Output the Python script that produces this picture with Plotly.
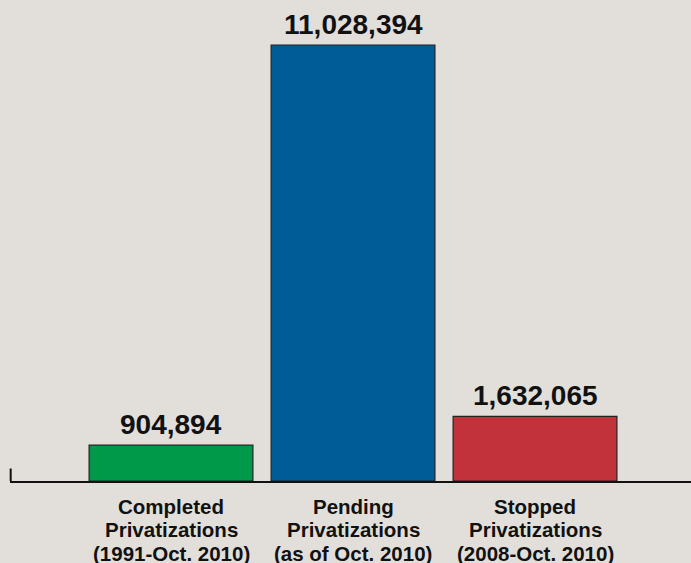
import plotly.graph_objects as go

category_lines = [["Completed", "Privatizations", "(1991-Oct. 2010)"],
                  ["Pending", "Privatizations", "(as of Oct. 2010)"],
                  ["Stopped", "Privatizations", "(2008-Oct. 2010)"]]
values = [904894, 11028394, 1632065]
labels = ["904,894", "11,028,394", "1,632,065"]
colors = ["#00994a", "#005c97", "#c1323a"]

bg = "#e2dfdb"
x = [0, 1, 2]
FONT = "Liberation Sans, Arial, sans-serif"

fig = go.Figure()
fig.add_trace(go.Bar(
    x=x, y=values,
    marker=dict(color=colors, line=dict(color="#222222", width=1.2)),
    width=0.9,
    hoverinfo="skip",
))

annotations = []
for i, v in enumerate(values):
    annotations.append(dict(
        x=x[i], y=v, xref="x", yref="y", text=labels[i], showarrow=False,
        yanchor="bottom", xanchor="center", yshift=3,
        font=dict(family=FONT, size=28, color="#111111", weight="bold"),
    ))
for i, lines in enumerate(category_lines):
    for k, line in enumerate(lines):
        annotations.append(dict(
            x=x[i], y=0, xref="x", yref="y", text=line, showarrow=False,
            yanchor="middle", xanchor="center", yshift=-(25 + 23.5 * k),
            font=dict(family=FONT, size=20.5, color="#111111", weight="bold"),
        ))

fig.update_layout(
    width=691, height=563,
    margin=dict(l=10, r=0, t=0, b=82),
    paper_bgcolor=bg, plot_bgcolor=bg,
    showlegend=False,
    xaxis=dict(range=[-0.8846, 2.857], showticklabels=False,
               showline=True, linecolor="#111111", linewidth=2,
               showgrid=False, zeroline=False, ticks=""),
    yaxis=dict(range=[0, 12166000], visible=False, showgrid=False, zeroline=False),
    annotations=annotations,
    shapes=[dict(type="line", xref="paper", yref="paper", x0=0.001, x1=0.001, y0=0, y1=0.026,
                 line=dict(color="#111111", width=2))],
)

fig.write_html("out.html", config={"displayModeBar": False},
               post_script="document.body.style.margin='0';document.body.style.background='%s';" % bg)
